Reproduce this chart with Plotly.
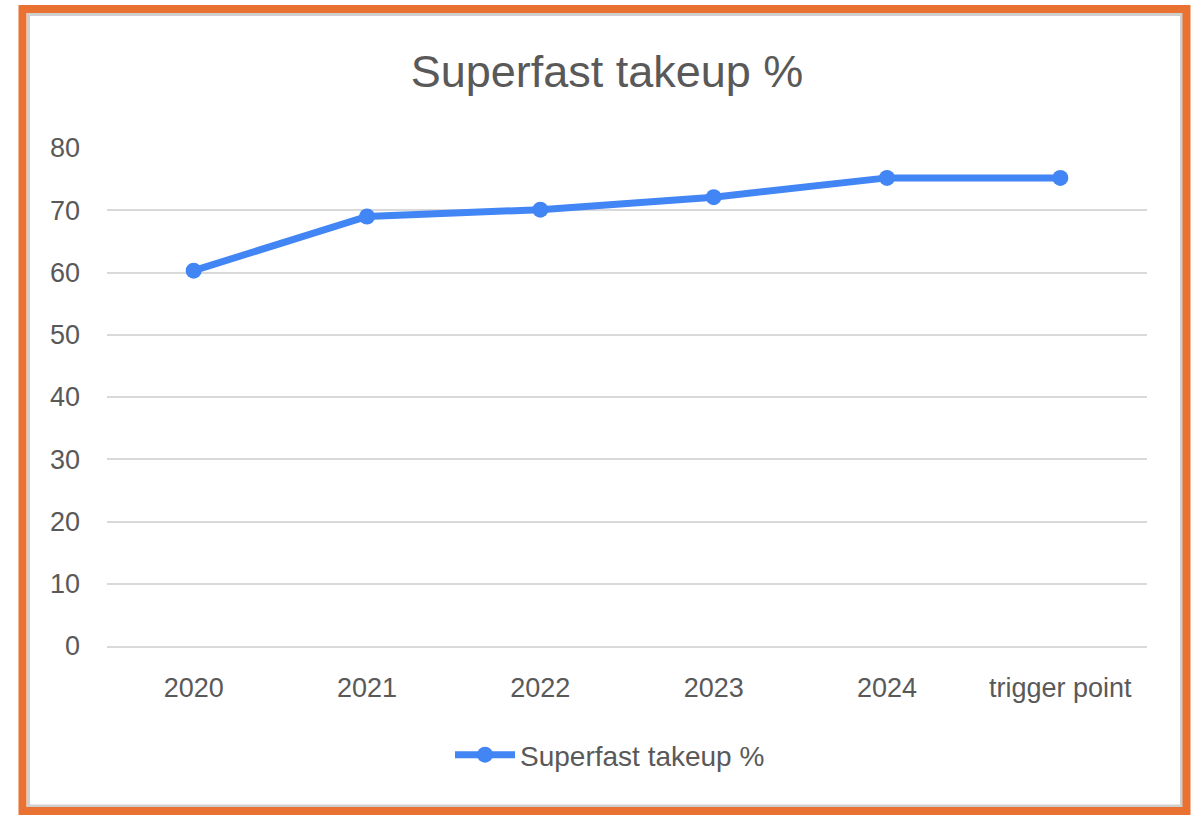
import plotly.graph_objects as go

categories = ["2020", "2021", "2022", "2023", "2024", "trigger point"]
takeup = [60.3, 69.0, 70.1, 72.1, 75.2, 75.2]
y_ticks = [0, 10, 20, 30, 40, 50, 60, 70, 80]
series_name = "Superfast takeup %"

W, H = 1202, 815
L, R, T, B = 107, 1147, 148, 646
pw, ph = R - L, B - T

def px(x):
    return (x - L) / pw

def py(y):
    return (B - y) / ph

BLUE = "#4285F4"
TXT = "#595959"
FONT = "Arial, 'Liberation Sans', sans-serif"

fig = go.Figure()
fig.add_trace(go.Scatter(
    x=categories, y=takeup, mode="lines+markers", name=series_name,
    line=dict(color=BLUE, width=7),
    marker=dict(color=BLUE, size=16),
))

shapes = [
    # inner shadow
    dict(type="rect", xref="paper", yref="paper",
         x0=px(28.5), x1=px(1181.5), y0=py(14.5), y1=py(806),
         line=dict(color="#cfcfcf", width=3), layer="below"),
    dict(type="rect", xref="paper", yref="paper",
         x0=px(22.5), x1=px(1186.5), y0=py(9), y1=py(811),
         line=dict(color="#E97132", width=8)),
]

fig.update_layout(
    width=W, height=H,
    margin=dict(l=L, r=W - R, t=T, b=H - B),
    paper_bgcolor="white", plot_bgcolor="white",
    font=dict(family=FONT, size=27, color=TXT),
    title=dict(text="Superfast takeup %", x=607 / W, xref="container",
               y=1 - 71 / H, yref="container", xanchor="center", yanchor="middle",
               font=dict(size=45, color=TXT, family=FONT)),
    xaxis=dict(type="category", range=[-0.5, len(categories) - 0.5],
               showgrid=False, zeroline=False,
               showline=True, linecolor="#d9d9d9", linewidth=2,
               ticks="", ticklabelstandoff=17,
               tickfont=dict(size=27, color=TXT)),
    yaxis=dict(range=[0, 80], tickvals=y_ticks, showgrid=True,
               gridcolor="#d9d9d9", gridwidth=2, zeroline=False,
               showline=False, ticks="", ticklabelstandoff=26,
               tickfont=dict(size=27, color=TXT)),
    showlegend=True,
    legend=dict(orientation="h", x=px(610), xanchor="center",
                y=py(755), yanchor="middle",
                font=dict(size=28, color=TXT), itemwidth=60),
    shapes=shapes,
)

fig.write_html("out.html", config={"displayModeBar": False},
               post_script="document.body.style.margin='0';")
